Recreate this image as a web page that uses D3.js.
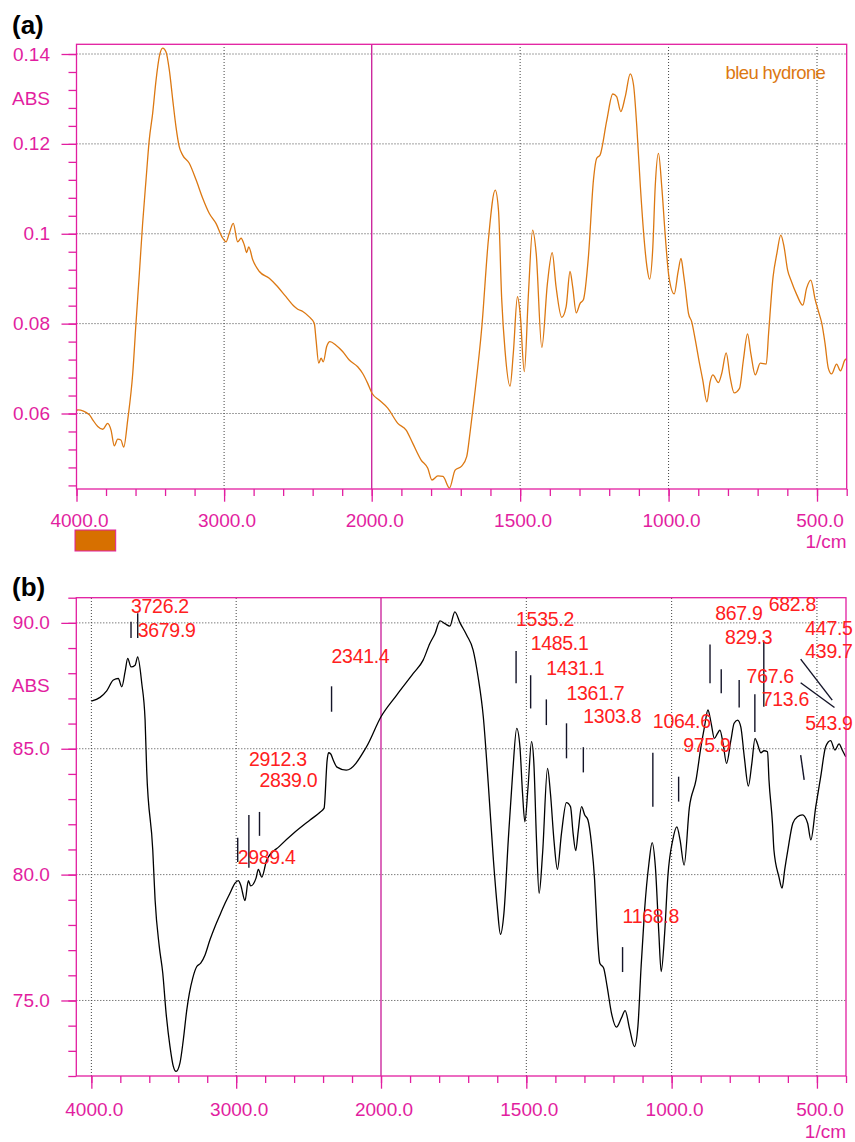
<!DOCTYPE html>
<html>
<head>
<meta charset="utf-8">
<script src="https://cdnjs.cloudflare.com/ajax/libs/d3/7.8.5/d3.min.js"></script>
<style>
  body { margin: 0; background: #fff; }
  text { font-family: "Liberation Sans", Arial, sans-serif; }
</style>
</head>
<body>
<script>
// ---- spectrum (a): bleu hydrone, absorbance
const wnA = [4000,3992,3913,3890,3856,3822,3789,3766,3744,3721,3699,3680,3653,3619,3597,3574,3552,3529,3507,3484,
  3461,3439,3416,3394,3371,3348,3326,3304,3281,3236,3190,3145,3100,3055,3009,2987,2965,2938,2908,2885,
  2863,2847,2833,2806,2761,2694,2648,2581,2524,2501,2467,2423,2389,2377,2359,2343,2328,2305,2283,2242,
  2197,2152,2095,2061,2027,1999,1975,1946,1912,1884,1862,1834,1811,1797,1777,1760,1738,1719,1697,1680,
  1669,1655,1629,1607,1584,1573,1562,1551,1534,1523,1509,1500,1486,1472,1458,1446,1427,1408,1392,1379,
  1360,1345,1332,1323,1311,1298,1287,1270,1253,1242,1231,1208,1188,1175,1161,1146,1129,1118,1107,1095,
  1084,1073,1064,1053,1045,1034,1023,1011,999,981,968,958,950,944,933,922,910,896,885,871,
  860,851,832,821,806,793,779,761,748,734,723,708,691,671,663,648,635,622,611,599,
  588,568,548,535,521,506,495,484,473,462,451,434,421,406,400];
const absA = [0.0606,0.0608,0.0597,0.0586,0.0571,0.0565,0.0578,0.0563,0.0528,0.0543,0.0541,0.0525,0.0586,0.0689,0.0801,0.0912,0.1023,0.1120,0.1209,0.1268,
  0.1342,0.1394,0.1413,0.1405,0.1364,0.1298,0.1238,0.1194,0.1175,0.1157,0.1120,0.1079,0.1045,0.1023,0.0990,0.0982,0.1001,0.1023,0.0982,0.0990,
  0.0975,0.0958,0.0971,0.0942,0.0916,0.0901,0.0886,0.0860,0.0838,0.0832,0.0827,0.0815,0.0801,0.0764,0.0712,0.0723,0.0715,0.0749,0.0760,0.0752,
  0.0738,0.0719,0.0704,0.0689,0.0667,0.0645,0.0630,0.0612,0.0578,0.0563,0.0534,0.0497,0.0478,0.0452,0.0461,0.0460,0.0434,0.0474,0.0483,0.0504,
  0.0556,0.0632,0.0793,0.0986,0.1097,0.1053,0.0853,0.0741,0.0661,0.0734,0.0860,0.0823,0.0693,0.0867,0.1008,0.0957,0.0747,0.0890,0.0958,0.0882,
  0.0814,0.0838,0.0916,0.0882,0.0824,0.0845,0.0853,0.0949,0.1120,0.1168,0.1175,0.1253,0.1311,0.1305,0.1272,0.1305,0.1356,0.1331,0.1238,0.1105,
  0.1001,0.0927,0.0899,0.0971,0.1105,0.1179,0.1105,0.0994,0.0905,0.0866,0.0915,0.0945,0.0912,0.0882,0.0823,0.0804,0.0764,0.0712,0.0675,0.0626,
  0.0671,0.0686,0.0669,0.0689,0.0735,0.0682,0.0646,0.0656,0.0719,0.0777,0.0734,0.0686,0.0712,0.0710,0.0779,0.0904,0.0957,0.0997,0.0971,0.0919,
  0.0897,0.0864,0.0841,0.0879,0.0897,0.0853,0.0827,0.0801,0.0756,0.0701,0.0688,0.0710,0.0695,0.0719,0.0722];

// ---- spectrum (b)
const wnB = [4000,3940,3894,3848,3814,3790,3767,3749,3726,3698,3680,3652,3629,3618,3576,3560,3531,3507,3484,3457,
  3434,3415,3388,3365,3341,3323,3300,3272,3245,3215,3181,3146,3112,3077,3043,3008,2985,2969,2939,2916,
  2900,2863,2847,2823,2789,2700,2594,2490,2421,2393,2372,2362,2347,2330,2304,2240,2100,2000,1946,1889,
  1855,1832,1814,1797,1780,1763,1746,1728,1705,1683,1666,1648,1631,1614,1600,1589,1577,1562,1547,1533,
  1522,1513,1505,1494,1482,1474,1465,1456,1444,1427,1417,1405,1393,1379,1362,1348,1339,1330,1321,1310,
  1299,1288,1276,1265,1257,1247,1234,1222,1207,1190,1173,1160,1144,1128,1116,1105,1093,1078,1067,1056,
  1044,1036,1024,1013,996,982,971,957,939,916,899,887,875,864,853,842,834,823,811,796,
  785,773,762,750,736,724,713,705,693,682,670,665,653,648,631,620,611,600,583,567,
  550,532,521,504,487,470,453,438,424,413,401];
const absB = [86.89,87.04,87.30,87.73,87.79,87.46,88.06,88.59,88.25,88.32,88.65,87.60,86.14,84.15,80.98,79.00,77.14,76.09,74.50,73.17,
  72.38,72.18,72.52,73.44,74.63,75.29,75.89,76.35,76.48,76.81,77.41,77.94,78.40,78.86,79.26,79.66,79.76,79.59,78.97,79.76,
  79.55,79.86,80.21,79.90,80.58,81.13,81.69,82.17,82.48,82.64,84.54,84.84,84.79,84.55,84.27,84.15,85.08,86.27,87.13,87.99,
  88.52,89.18,89.58,90.08,89.97,89.87,90.44,90.00,89.51,88.92,87.86,86.27,83.63,80.71,78.73,77.63,78.47,81.38,84.02,85.81,
  85.08,83.23,82.10,83.49,85.28,84.42,81.38,79.26,80.85,84.22,83.23,81.38,80.21,81.64,82.86,82.70,81.64,80.95,81.77,82.70,
  82.37,82.17,81.25,79.79,77.94,76.48,76.29,75.56,74.50,73.94,74.30,74.60,73.84,73.17,73.97,76.35,78.60,80.45,81.27,80.32,
  77.67,76.15,77.67,79.92,81.38,81.90,81.38,80.38,82.66,83.76,85.08,85.87,86.54,86.01,85.41,85.61,85.74,85.21,84.42,85.34,
  86.01,86.14,85.87,84.68,83.52,84.42,85.41,85.21,84.84,84.92,84.88,83.76,82.04,80.98,79.92,79.46,80.19,80.98,82.04,82.30,
  82.37,82.04,81.38,82.70,83.89,85.08,85.32,84.95,85.19,84.95,84.68];

// ---- peak picks on (b)
const peakWn    = [3726.2,3679.9,2989.4,2912.3,2839.0,2341.4,1535.2,1485.1,1431.1,1361.7,1303.8,1168.8,1064.6,975.9,867.9,829.3,767.6,713.6,682.8,543.9,447.5,439.7];
const peakText  = peakWn.map(d => d.toFixed(1));
const peakTextAbs = [90.40,89.44,80.42,84.31,83.48,88.39,89.87,88.92,87.92,86.93,86.01,78.07,85.81,84.88,90.11,89.15,87.62,86.71,90.48,85.74,89.51,88.59];
const peakTextWn  = [3726.2,3679.9,2989.4,2912.3,2839.0,2341.4,1535.2,1485.1,1431.1,1361.7,1303.8,1168.8,1064.6,960,850,816,742,690,666,540,540,540];
const markTopAbs  = [90.04,90.38,81.46,82.37,82.49,87.48,88.88,87.92,86.96,86.01,85.06,77.12,84.84,83.89,89.14,88.16,87.73,87.16,89.25,84.75,88.56,87.62];
const markBotAbs  = [89.40,89.40,80.50,80.27,81.54,86.47,87.60,86.60,85.94,84.62,84.06,76.13,82.70,82.90,87.60,87.20,86.64,85.67,86.67,83.76,86.93,86.64];
const markTopWn   = [3726.2,3679.9,2989.4,2912.3,2839.0,2341.4,1535.2,1485.1,1431.1,1361.7,1303.8,1168.8,1064.6,975.9,867.9,829.3,767.6,713.6,682.8,556,556,556];

// ---- ticks
const xMajor = [4000, 3000, 2000, 1500, 1000, 500];
const xMinor = d3.range(4000, 2000, -200).concat(d3.range(2000, 399, -100));
const yMajorA = [0.06, 0.08, 0.10, 0.12, 0.14];
const yLabelsA = ["0.06", "0.08", "0.1", "0.12", "0.14"];
const yMinorA = d3.range(0, 25).map(i => 0.044 + i * 0.004);
const yMajorB = [75, 80, 85, 90];
const yLabelsB = ["75.0", "80.0", "85.0", "90.0"];
const yMinorB = d3.range(72, 92, 1);
const absLevelA = 0.13, absLevelB = 87.5;

const MAG = "#e21ea0", ORANGE = "#dc7812", RED = "#ff2020";

const svg = d3.select("body").append("svg").attr("width", 855).attr("height", 1142);

const xA = d3.scaleLinear().domain([4000, 2000, 400]).range([76.5, 371.7, 846.7]);
const yA = d3.scaleLinear().domain([0.0432, 0.14216]).range([489, 44.3]);
const xB = d3.scaleLinear().domain([4104, 2000, 400]).range([76.3, 381, 846]);
const yB = d3.scaleLinear().domain([72, 91]).range([1076, 597.7]);

function panel(id, x, y, o) {
  const g = svg.append("g");
  const xr = x.range(), left = xr[0], right = xr[xr.length - 1];
  const [bottom, top] = y.range();

  g.append("clipPath").attr("id", "clip" + id).append("rect")
    .attr("x", left).attr("y", top).attr("width", right - left).attr("height", bottom - top);

  // dotted grid
  g.selectAll(null).data(xMajor.filter(d => d !== 2000 && x(d) > left + 1)).join("line")
    .attr("x1", d => x(d)).attr("x2", d => x(d)).attr("y1", bottom).attr("y2", top)
    .attr("stroke", "#444").attr("stroke-width", 1).attr("stroke-dasharray", "1,2");
  g.selectAll(null).data(o.yMajor).join("line")
    .attr("x1", left).attr("x2", right).attr("y1", d => y(d)).attr("y2", d => y(d))
    .attr("stroke", "#444").attr("stroke-width", 1).attr("stroke-dasharray", "1,2");
  g.append("line")
    .attr("x1", x(2000)).attr("x2", x(2000)).attr("y1", bottom).attr("y2", top)
    .attr("stroke", "#cc2a9e").attr("stroke-width", 1.4);

  // spectrum
  const line = d3.line().x(d => x(d[0])).y(d => y(d[1])).curve(d3.curveMonotoneX);
  g.append("path").datum(d3.zip(o.wn, o.abs))
    .attr("clip-path", `url(#clip${id})`)
    .attr("fill", "none").attr("stroke", o.color).attr("stroke-width", 1.3)
    .attr("d", line);

  // frame
  g.append("rect").attr("x", left).attr("y", top).attr("width", right - left).attr("height", bottom - top)
    .attr("fill", "none").attr("stroke", MAG).attr("stroke-width", 1.3);

  // axes
  const style = sel => {
    sel.selectAll("path").attr("stroke", MAG).attr("stroke-width", 1.3);
    sel.selectAll("line").attr("stroke", MAG).attr("stroke-width", 1.3);
    sel.selectAll("text").attr("fill", MAG).attr("font-size", "19px")
      .attr("font-family", '"Liberation Sans", Arial, sans-serif');
  };
  g.append("g").attr("transform", `translate(0,${bottom})`)
    .call(d3.axisBottom(x).tickValues(xMinor).tickSize(7).tickSizeOuter(0).tickFormat(""))
    .call(style);
  g.append("g").attr("transform", `translate(0,${bottom})`)
    .call(d3.axisBottom(x).tickValues(xMajor).tickSize(12.7).tickSizeOuter(0)
      .tickPadding(o.xPad).tickFormat(d3.format(".1f")))
    .call(style).call(s => s.selectAll("text").attr("dx", 2.5));
  g.append("g").attr("transform", `translate(${left},0)`)
    .call(d3.axisLeft(y).tickValues(o.yMinor).tickSize(8).tickSizeOuter(0).tickFormat(""))
    .call(style);
  g.append("g").attr("transform", `translate(${left},0)`)
    .call(d3.axisLeft(y).tickValues(o.yMajor).tickSize(15).tickSizeOuter(0)
      .tickPadding(11.5).tickFormat((d, i) => o.yLabels[i]))
    .call(style);
  g.selectAll(".domain").remove();

  g.append("text").attr("x", left - 26.5).attr("y", y(o.absLevel)).attr("dy", "0.32em")
    .attr("text-anchor", "end").attr("fill", MAG).attr("font-size", "19px").text("ABS");
  g.append("text").attr("x", right).attr("y", bottom + o.unitDy)
    .attr("text-anchor", "end").attr("fill", MAG).attr("font-size", "19px").text("1/cm");
  g.append("text").attr("x", 12).attr("y", top + o.tagDy)
    .attr("font-size", "26px").attr("font-weight", "bold").attr("fill", "#000").text(o.tag);
  return g;
}

const gA = panel("A", xA, yA, {
  wn: wnA, abs: absA, color: ORANGE, yMajor: yMajorA, yMinor: yMinorA, yLabels: yLabelsA,
  absLevel: absLevelA, xPad: 11.8, unitDy: 59, tag: "(a)", tagDy: -10
});
gA.append("rect").attr("x", 75).attr("y", 530).attr("width", 40.7).attr("height", 21)
  .attr("fill", "#d77000").attr("stroke", MAG).attr("stroke-width", 1);
gA.append("text").attr("x", 725.5).attr("y", 79).attr("fill", ORANGE)
  .attr("font-size", "18.5px").attr("letter-spacing", "-0.6px").text("bleu hydrone");

const gB = panel("B", xB, yB, {
  wn: wnB, abs: absB, color: "#000", yMajor: yMajorB, yMinor: yMinorB, yLabels: yLabelsB,
  absLevel: absLevelB, xPad: 13.5, unitDy: 62, tag: "(b)", tagDy: -2
});

const peaks = peakWn.map((wn, i) => ({
  wn, text: peakText[i], tx: peakTextWn[i], ty: peakTextAbs[i],
  top: markTopAbs[i], bot: markBotAbs[i], topWn: markTopWn[i]
}));
gB.selectAll(".mark").data(peaks).join("line")
  .attr("x1", d => xB(d.topWn)).attr("y1", d => yB(d.top))
  .attr("x2", d => xB(d.wn)).attr("y2", d => yB(d.bot))
  .attr("stroke", "#141428").attr("stroke-width", 1.4);
gB.selectAll(".plab").data(peaks).join("text")
  .attr("x", d => xB(d.tx)).attr("y", d => yB(d.ty))
  .attr("fill", RED).attr("font-size", "19.5px").attr("letter-spacing", "-0.3px")
  .text(d => d.text);
</script>
</body>
</html>
